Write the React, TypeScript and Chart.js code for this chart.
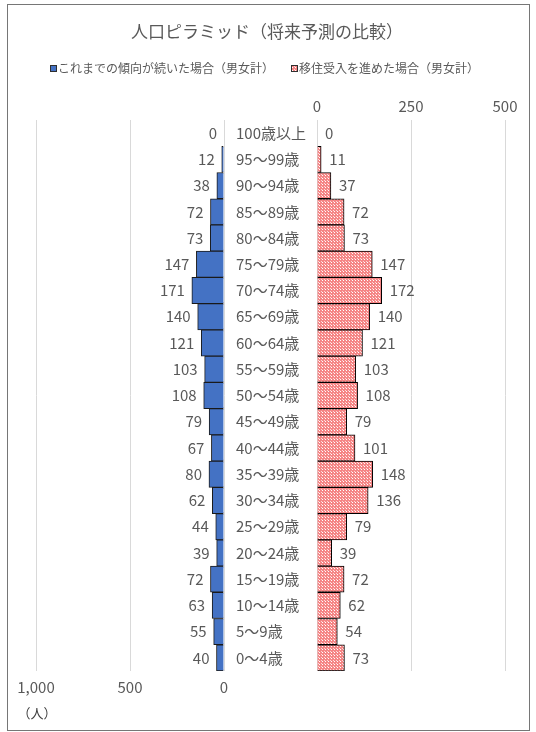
import React, { useEffect, useRef } from "react";
import { Chart, registerables } from "chart.js";

Chart.register(...registerables);

const AGE_LABELS = [
  "100歳以上", "95～99歳", "90～94歳", "85～89歳", "80～84歳", "75～79歳", "70～74歳",
  "65～69歳", "60～64歳", "55～59歳", "50～54歳", "45～49歳", "40～44歳", "35～39歳",
  "30～34歳", "25～29歳", "20～24歳", "15～19歳", "10～14歳", "5～9歳", "0～4歳",
];
const TREND_VALUES = [0, 12, 38, 72, 73, 147, 171, 140, 121, 103, 108, 79, 67, 80, 62, 44, 39, 72, 63, 55, 40];
const MIGRATION_VALUES = [0, 11, 37, 72, 73, 147, 172, 140, 121, 103, 108, 79, 101, 148, 136, 79, 39, 72, 62, 54, 73];
const LEFT_AXIS_MAX = 1000;
const LEFT_AXIS_STEP = 500;
const RIGHT_AXIS_MAX = 500;
const RIGHT_AXIS_STEP = 250;
const TITLE = "人口ピラミッド（将来予測の比較）";
const SERIES_NAMES = ["これまでの傾向が続いた場合（男女計）", "移住受入を進めた場合（男女計）"];
const UNIT_LABEL = "（人）";

const W = 536;
const H = 732;
const FONT = '"Noto Sans CJK JP", "Noto Sans", sans-serif';
const TEXT = "#595959";
const BLUE = "#4472C4";
const GRID = "#d9d9d9";

function makePattern(): CanvasPattern | string {
  const c = document.createElement("canvas");
  c.width = 3;
  c.height = 3;
  const g = c.getContext("2d");
  if (!g) return "#f59a9a";
  g.fillStyle = "#f58585";
  g.fillRect(0, 0, 3, 3);
  g.fillStyle = "#ffffff";
  g.fillRect(1, 1, 1, 1);
  g.fillStyle = "#fcd6d6";
  g.fillRect(0, 0, 1, 1);
  const p = g.createPattern(c, "repeat");
  return p || "#f59a9a";
}

export default function App() {
  const leftRef = useRef<HTMLCanvasElement>(null);
  const rightRef = useRef<HTMLCanvasElement>(null);

  useEffect(() => {
    const pattern = makePattern();

    const leftPlugin = {
      id: "leftDecor",
      afterDatasetsDraw(chart: any) {
        const ctx = chart.ctx;
        const meta = chart.getDatasetMeta(0);
        const yScale = chart.scales.y;
        ctx.save();
        ctx.fillStyle = TEXT;
        ctx.textBaseline = "middle";
        ctx.font = `15px ${FONT}`;
        ctx.textAlign = "right";
        meta.data.forEach((bar: any, i: number) => {
          ctx.fillText(String(TREND_VALUES[i]), bar.x - 7, bar.y);
        });
        ctx.textAlign = "left";
        AGE_LABELS.forEach((lab, i) => {
          ctx.fillText(lab, 236, yScale.getPixelForValue(i));
        });
        // title
        ctx.textAlign = "center";
        ctx.font = `17px ${FONT}`;
        ctx.fillText(TITLE, 267, 32);
        // legend
        ctx.font = `12px ${FONT}`;
        ctx.textAlign = "left";
        ctx.fillStyle = BLUE;
        ctx.fillRect(50.5, 65.5, 6, 6);
        ctx.strokeStyle = "#2f2f2f";
        ctx.lineWidth = 1;
        ctx.strokeRect(50.5, 65.5, 6, 6);
        ctx.fillStyle = TEXT;
        ctx.fillText(SERIES_NAMES[0], 58, 68);
        ctx.fillStyle = pattern as any;
        ctx.fillRect(291.5, 65.5, 6, 6);
        ctx.strokeRect(291.5, 65.5, 6, 6);
        ctx.fillStyle = TEXT;
        ctx.fillText(SERIES_NAMES[1], 299, 68);
        // unit
        ctx.font = `13px ${FONT}`;
        ctx.fillStyle = "#404040";
        ctx.textAlign = "center";
        ctx.fillText(UNIT_LABEL, 37, 713);
        ctx.restore();
      },
    };

    const rightPlugin = {
      id: "rightDecor",
      afterDatasetsDraw(chart: any) {
        const ctx = chart.ctx;
        const meta = chart.getDatasetMeta(0);
        ctx.save();
        ctx.fillStyle = TEXT;
        ctx.textBaseline = "middle";
        ctx.font = `15px ${FONT}`;
        ctx.textAlign = "left";
        meta.data.forEach((bar: any, i: number) => {
          ctx.fillText(String(MIGRATION_VALUES[i]), bar.x + 8, bar.y);
        });
        ctx.restore();
      },
    };

    const left = new Chart(leftRef.current as HTMLCanvasElement, {
      type: "bar",
      data: {
        labels: AGE_LABELS,
        datasets: [
          {
            label: SERIES_NAMES[0],
            data: TREND_VALUES,
            backgroundColor: BLUE,
            borderColor: "#1a1a1a",
            borderWidth: 1,
            barPercentage: 1,
            categoryPercentage: 1,
          },
        ],
      },
      options: {
        indexAxis: "y",
        responsive: false,
        animation: false,
        events: [],
        layout: { padding: { left: 36, right: W - 224, top: 120, bottom: 21 } },
        plugins: { legend: { display: false }, title: { display: false }, tooltip: { enabled: false } },
        scales: {
          x: {
            type: "linear",
            position: "bottom",
            reverse: true,
            min: 0,
            max: LEFT_AXIS_MAX,
            ticks: { stepSize: LEFT_AXIS_STEP, color: TEXT, font: { family: FONT, size: 15 }, padding: 7, maxRotation: 0 },
            grid: { color: GRID, drawTicks: false },
            border: { display: false },
            afterFit: (s: any) => {
              s.height = 40;
            },
          },
          y: { type: "category", display: false, offset: true, grid: { display: false } },
        },
      } as any,
      plugins: [leftPlugin],
    });

    const right = new Chart(rightRef.current as HTMLCanvasElement, {
      type: "bar",
      data: {
        labels: AGE_LABELS,
        datasets: [
          {
            label: SERIES_NAMES[1],
            data: MIGRATION_VALUES,
            backgroundColor: pattern as any,
            borderColor: "#000000",
            borderWidth: 1,
            barPercentage: 1,
            categoryPercentage: 1,
          },
        ],
      },
      options: {
        indexAxis: "y",
        responsive: false,
        animation: false,
        events: [],
        layout: { padding: { left: 317, right: W - 505, top: 90, bottom: H - 671 } },
        plugins: { legend: { display: false }, title: { display: false }, tooltip: { enabled: false } },
        scales: {
          x: {
            type: "linear",
            position: "top",
            min: 0,
            max: RIGHT_AXIS_MAX,
            ticks: { stepSize: RIGHT_AXIS_STEP, color: TEXT, font: { family: FONT, size: 15 }, padding: 5, maxRotation: 0 },
            grid: { color: GRID, drawTicks: false },
            border: { display: false },
            afterFit: (s: any) => {
              s.height = 30;
            },
          },
          y: { type: "category", display: false, offset: true, grid: { display: false } },
        },
      } as any,
      plugins: [rightPlugin],
    });

    return () => {
      left.destroy();
      right.destroy();
    };
  }, []);

  return (
    <div
      style={{
        position: "absolute",
        left: 0,
        top: 0,
        width: W,
        height: H,
        overflow: "hidden",
        background: "#ffffff",
      }}
    >
      <div
        style={{
          position: "absolute",
          left: 7,
          top: 4,
          width: 523,
          height: 727,
          border: "1px solid #767676",
          boxSizing: "border-box",
        }}
      />
      <canvas ref={leftRef} width={W} height={H} style={{ position: "absolute", left: 0, top: 0 }} />
      <canvas ref={rightRef} width={W} height={H} style={{ position: "absolute", left: 0, top: 0 }} />
    </div>
  );
}
